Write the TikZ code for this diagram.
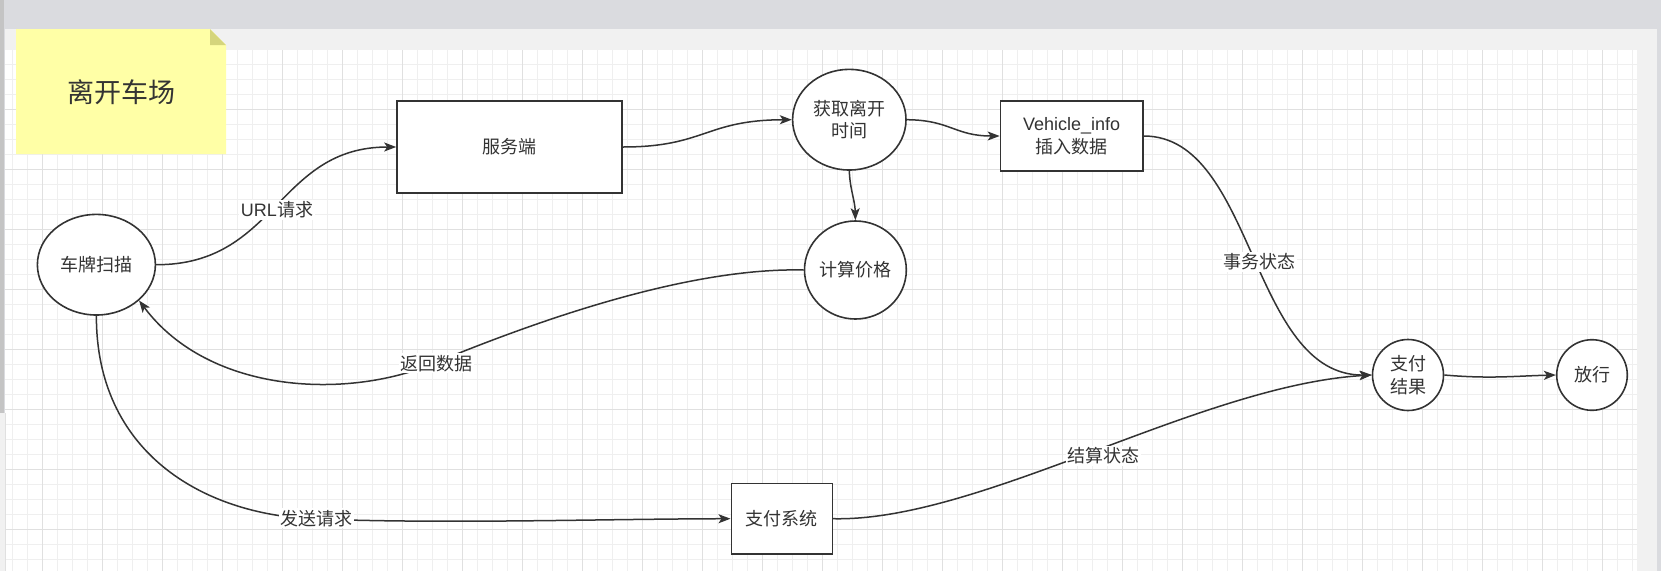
\documentclass[tikz,border=0pt]{standalone}
\usepackage{fontspec}
\setmainfont{Noto Sans CJK SC}
\newfontfamily\latf{Liberation Sans}
\usetikzlibrary{shapes.geometric,arrows.meta}
\definecolor{ink}{HTML}{333333}
\definecolor{gridminor}{HTML}{EFEFEF}
\definecolor{gridmajor}{HTML}{E0E0E0}
\definecolor{topbar}{HTML}{DADBDF}
\definecolor{band}{HTML}{F1F1F1}
\definecolor{leftstrip}{HTML}{C4C4C4}
\definecolor{notefill}{HTML}{FFFFA6}
\definecolor{foldfill}{HTML}{D5D57C}
\begin{document}
\begin{tikzpicture}[x=1pt,y=-1pt,
  box/.style={draw=ink,line width=1.6pt,fill=white,rectangle,inner sep=0pt,text=ink,font=\fontsize{18}{22.5}\selectfont,align=center},
  oval/.style={draw=ink,line width=1.6pt,fill=white,ellipse,inner sep=0pt,text=ink,font=\fontsize{18}{22.5}\selectfont,align=center},
  edge/.style={draw=ink,line width=1.5pt,-{Stealth[length=12pt,width=9pt,inset=3pt]}},
  lbl/.style={fill=white,text=ink,inner sep=1.5pt,font=\fontsize{18}{22}\selectfont},
  gmin/.style={draw=gridminor,line width=1pt},
  gmaj/.style={draw=gridmajor,line width=1pt}
]
\useasboundingbox (0,0) rectangle (1661,571);
% window background
\fill[topbar] (0,0) rectangle (1661,571);
\fill[band] (5,29) rectangle (1657,571);
\fill[white] (5,50) rectangle (1637,571);
% grid
\foreach \i in {0,...,108} {\draw[gmin] ({12.7+15*\i},50) -- ({12.7+15*\i},571);}
\foreach \j in {1,...,34} {\draw[gmin] (5,{49.3+15*\j}) -- (1637,{49.3+15*\j});}
\foreach \i in {0,...,26} {\draw[gmaj] ({42.7+60*\i},50) -- ({42.7+60*\i},571);}
\foreach \j in {1,...,8} {\draw[gmaj] (5,{49.3+60*\j}) -- (1637,{49.3+60*\j});}
% left strip
\fill[leftstrip] (0,0) rectangle (3.5,413);
\fill[band] (0,413) rectangle (5,571);
\draw[gridmajor,line width=1pt] (5,413) -- (5,571);
% sticky note
\fill[notefill] (16,29) -- (210,29) -- (226,45) -- (226,154) -- (16,154) -- cycle;
\fill[foldfill] (210,29) -- (226,45) -- (210,45) -- cycle;
\node[text=ink,font=\fontsize{27}{32}\selectfont] (title) at (121,92) {离开车场};
% nodes
\node[oval,minimum width=118pt,minimum height=100.6pt] (scan) at (96.4,264.7) {车牌扫描};
\node[box,minimum width=225pt,minimum height=92pt] (server) at (509.5,147) {服务端};
\node[oval,minimum width=113.4pt,minimum height=100.7pt] (get) at (849.3,119.7) {获取离开\\时间};
\node[box,minimum width=142.5pt,minimum height=70pt] (vinfo) at (1071.7,136) {{\latf Vehicle\_info}\\插入数据};
\node[oval,minimum width=99pt,minimum height=98pt] (calc) at (855.4,270) {计算价格};
\node[oval,minimum width=71pt,minimum height=71pt] (pay) at (1408,375) {支付\\结果};
\node[oval,minimum width=70.6pt,minimum height=70.6pt] (go) at (1592,375) {放行};
\node[box,minimum width=101pt,minimum height=70.7pt] (sys) at (781.8,518.7) {支付系统};
% label points
\coordinate (m6) at (437,362);
\coordinate (m7) at (316,519);
% connectors
\draw[edge] (scan.east) .. controls (277,265) and (277,147) .. (server.west);
\draw[edge] (server.east) .. controls (705,147) and (705,120) .. (get.west);
\draw[edge] (get.east) .. controls (950,120) and (955,136) .. (vinfo.west);
\draw[edge] (get.south) .. controls (850,190) and (855,200) .. (calc.north);
\draw[edge] (vinfo.east) .. controls (1255,136) and (1250,376) .. (pay.west);
\draw[edge] (calc.west) .. controls (720,268) and (600,295) .. (m6) .. controls (350,400) and (210,395) .. (scan.-40);
\draw[edge] (scan.south) .. controls (96,450) and (200,515) .. (m7) .. controls (450,524) and (600,519) .. (sys.west);
\draw[edge] (sys.east) .. controls (980,522) and (1200,385) .. (pay.west);
\draw[edge] (pay.east) .. controls (1490,379) and (1515,376) .. (go.west);
% labels
\node[lbl] (l1) at (277,210) {{\latf URL}请求};
\node[lbl] (l2) at (436.6,363.3) {返回数据};
\node[lbl] (l3) at (316,518.3) {发送请求};
\node[lbl] (l4) at (1259,261.7) {事务状态};
\node[lbl] (l5) at (1103.5,456) {结算状态};
\end{tikzpicture}
\end{document}
